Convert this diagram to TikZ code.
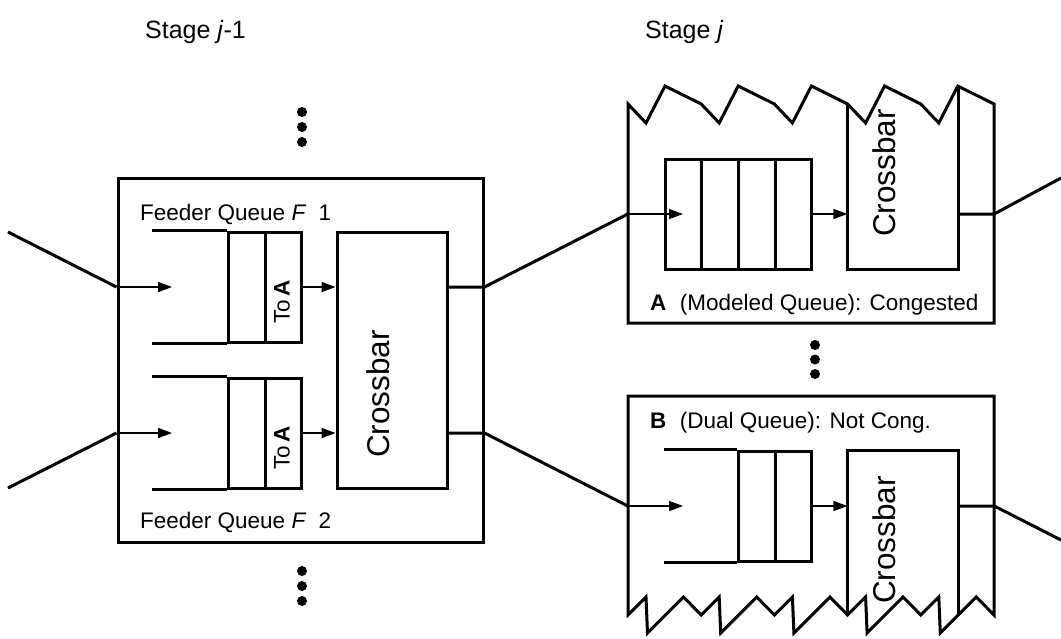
\documentclass[tikz,border=0pt]{standalone}
\usepackage{fontspec}
\setmainfont{Liberation Sans}
\usetikzlibrary{arrows.meta}
\begin{document}
\begin{tikzpicture}[x=1pt,y=-1pt,
  frame/.style={draw, line width=3pt, inner sep=0pt},
  ghost/.style={inner sep=0pt},
  wire/.style={line width=3pt},
  flow/.style={line width=1.5pt, -{Triangle[length=14pt,width=10pt]}},
  cell/.style={draw, line width=3pt, inner sep=0pt, minimum width=36.75pt, minimum height=110pt},
  small/.style={font=\fontsize{22.5}{27}\selectfont, inner sep=0pt, anchor=base west},
  big/.style={font=\fontsize{25}{30}\selectfont, inner sep=0pt, anchor=base west},
  rsmall/.style={font=\fontsize{22.5}{27}\selectfont, inner sep=0pt, rotate=90},
  rbig/.style={font=\fontsize{31.5}{36}\selectfont, inner sep=0pt, rotate=90},
  dot/.style={circle, fill, inner sep=0pt, minimum size=10pt}]
\useasboundingbox (0,0) rectangle (1061,638);

% stage titles
\node[big] (st1) at (145,38) {Stage \textit{j}-1};
\node[big] (st2) at (645,38) {Stage \textit{j}};

% ---------------- Stage j-1 ----------------
\node[frame, minimum width=365pt, minimum height=364pt] (L) at (300.5,360) {};
\node[frame, minimum width=110pt, minimum height=256pt] (XL) at (392,360) {};
\node[rbig] (XLt) at (378,394) {Crossbar};

% feeder queue 1
\node[cell, minimum width=37pt] (q1a) at (246.5,287) {};
\node[cell, minimum width=36pt] (q1b) at (283,287) {};
\draw[wire] (q1a.north west) -- ++(-75,0);
\draw[wire] (q1a.south west) -- ++(-75,0);
\node[rsmall] (q1t) at (282,302) {To\,\textbf{A}};
% feeder queue 2
\node[cell, minimum width=37pt] (q2a) at (246.5,433) {};
\node[cell, minimum width=36pt] (q2b) at (283,433) {};
\draw[wire] (q2a.north west) -- ++(-75,0);
\draw[wire] (q2a.south west) -- ++(-75,0);
\node[rsmall] (q2t) at (282,448) {To\,\textbf{A}};

\node[small] (f1) at (140,220) {Feeder Queue \textit{F}\hspace{0.55em}1};
\node[small] (f2) at (140,528) {Feeder Queue \textit{F}\hspace{0.55em}2};

% dots
\node[dot] (d1) at (302,112) {};
\node[dot] (d2) at (302,127) {};
\node[dot] (d3) at (302,142) {};
\node[dot] (d4) at (302,571) {};
\node[dot] (d5) at (302,586) {};
\node[dot] (d6) at (302,601) {};
\node[dot] (d7) at (815,345) {};
\node[dot] (d8) at (815,359.5) {};
\node[dot] (d9) at (815,374) {};

% ---------------- Stage j : A ----------------
\draw[line width=3pt] (628,104)
  -- (646,123) -- (665,86) -- (701.2,104)
  -- (719.2,123) -- (738.2,86) -- (774.4,104)
  -- (792.4,123) -- (811.4,86) -- (847.6,104)
  -- (865.6,123) -- (884.6,86) -- (920.8,104)
  -- (938.8,123) -- (957.8,86) -- (994,104)
  -- (994,323) -- (628,323) -- cycle;
\node[ghost, minimum width=366pt, minimum height=219pt] (A) at (811,213.5) {};
\node[ghost, minimum width=110.2pt, minimum height=165pt] (XA) at (902.7,186.5) {};
\draw[wire] (XA.north west) -- (XA.south west) -- (XA.south east) -- (XA.east |- 0,86);
\node[rbig] (XAt) at (884,173) {Crossbar};
\node[cell] (qa1) at (683.4,214) {};
\node[cell] (qa2) at (720.1,214) {};
\node[cell] (qa3) at (756.9,214) {};
\node[cell] (qa4) at (793.6,214) {};
\node[small] (at) at (650,310) {\textbf{A}\hspace{0.6em}(Modeled Queue): Congested};

% ---------------- Stage j : B ----------------
\draw[line width=3pt] (628,615)
  -- (646,597) -- (647.5,633) -- (683.5,597) -- (701.2,615)
  -- (719.2,597) -- (720.7,633) -- (756.7,597) -- (774.4,615)
  -- (792.4,597) -- (793.9,633) -- (829.9,597) -- (847.6,615)
  -- (865.6,597) -- (867.1,633) -- (903.1,597) -- (920.8,615)
  -- (938.8,597) -- (940.3,633) -- (976.3,597) -- (994,615)
  -- (994,396) -- (628,396) -- cycle;
\node[ghost, minimum width=366pt, minimum height=219pt] (B) at (811,505.5) {};
\node[ghost, minimum width=110.2pt, minimum height=164pt] (XB) at (902.7,533) {};
\draw[wire] (XB.south west) -- (XB.north west) -- (XB.north east) -- (XB.south east);
\node[rbig] (XBt) at (884,540) {Crossbar};
\node[cell] (qb3) at (756.9,506) {};
\node[cell] (qb4) at (793.6,506) {};
\draw[wire] (qb3.north west) -- ++(-73.5,0);
\draw[wire] (qb3.south west) -- ++(-73.5,0);
\node[small] (bt) at (650,428) {\textbf{B}\hspace{0.6em}(Dual Queue): Not Cong.};

% ---------------- connectors ----------------
\coordinate (in1) at (8,232);
\coordinate (in2) at (8,488);
\coordinate (outA) at (1061,178);
\coordinate (outB) at (1061,540);
\coordinate (h1) at (172,287);
\coordinate (h2) at (172,433);
\coordinate (hA) at (683,214);
\coordinate (hB) at (683,506);

\draw[wire] (in1) -- (L.west |- q1a.center);
\draw[wire] (in2) -- (L.west |- q2a.center);
\draw[flow] (L.west |- q1a.center) -- (h1);
\draw[flow] (L.west |- q2a.center) -- (h2);
\draw[flow] (q1b.east) -- (XL.west |- q1b.east);
\draw[flow] (q2b.east) -- (XL.west |- q2b.east);
\draw[wire] (XL.east |- q1b.east) -- (L.east |- q1b.east) -- (A.west |- qa1.center);
\draw[wire] (XL.east |- q2b.east) -- (L.east |- q2b.east) -- (B.west |- qb3.center);

\draw[flow] (A.west |- qa1.center) -- (hA);
\draw[flow] (qa4.east) -- (XA.west |- qa4.east);
\draw[wire] (XA.east |- qa4.east) -- (A.east |- qa4.east) -- (outA);

\draw[flow] (B.west |- qb3.center) -- (hB);
\draw[flow] (qb4.east) -- (XB.west |- qb4.east);
\draw[wire] (XB.east |- qb4.east) -- (B.east |- qb4.east) -- (outB);
\end{tikzpicture}
\end{document}
